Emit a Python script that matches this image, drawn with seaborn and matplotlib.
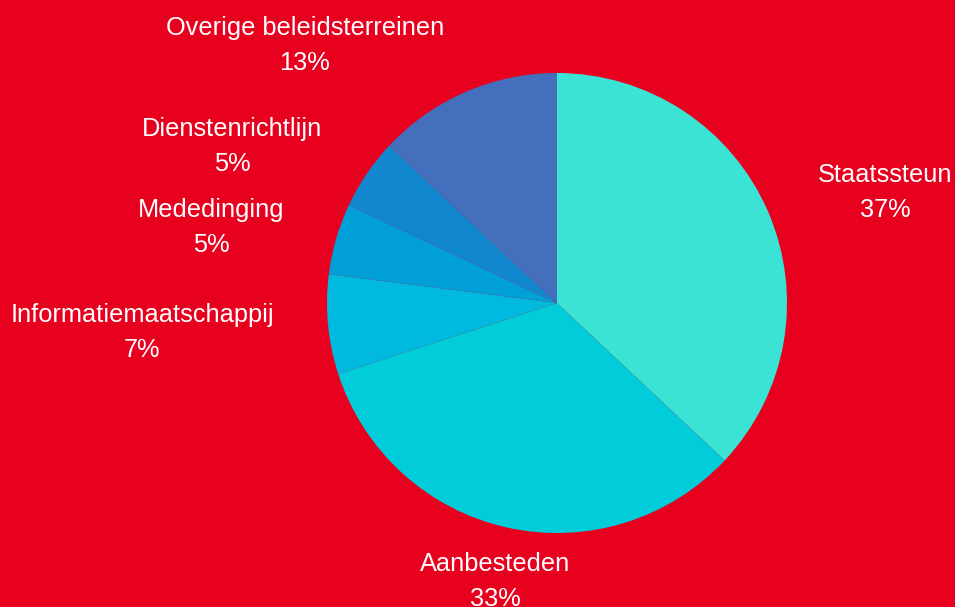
import numpy as np
import matplotlib
matplotlib.use('Agg')
import matplotlib.pyplot as plt
import seaborn as sb


# Dados do grafico
categorias = ['Staatssteun', 'Aanbesteden', 'Informatiemaatschappij',
              'Mededinging', 'Dienstenrichtlijn', 'Overige beleidsterreinen']
percentages = [37, 33, 7, 5, 5, 13]
kleuren = ['#3BE3D5', '#00CCDA', '#00B9DE', '#009FD7', '#1188CE', '#446FBD']

# Posicao dos rotulos (unidades do raio)
label_pos = [(1.426, 0.481), (-0.27, -1.212), (-1.804, -0.127),
             (-1.504, 0.329), (-1.413, 0.681), (-1.096, 1.120)]

achtergrond = '#E8001F'

sb.set_theme(style='white')
plt.rcParams['font.family'] = ['Liberation Sans', 'DejaVu Sans']

fig = plt.figure(figsize=(9.55, 6.07), dpi=100, facecolor=achtergrond)
ax = fig.add_axes([327/955, 74/607, 460/955, 460/607])
ax.set_facecolor(achtergrond)

ax.pie(percentages, colors=sb.color_palette(kleuren), startangle=90, counterclock=False,
       radius=1, wedgeprops={'linewidth': 0, 'antialiased': True})

for naam, pct, (x, y) in zip(categorias, percentages, label_pos):
    ax.text(x, y, f'{naam}\n{pct}%', color='white', fontsize=18.3, ha='center', va='center',
            linespacing=1.6, clip_on=False)

ax.set_xlim(-1, 1)
ax.set_ylim(-1, 1)
ax.set_aspect('equal')
ax.axis('off')

fig.savefig('out.png', dpi=100, facecolor=achtergrond)
